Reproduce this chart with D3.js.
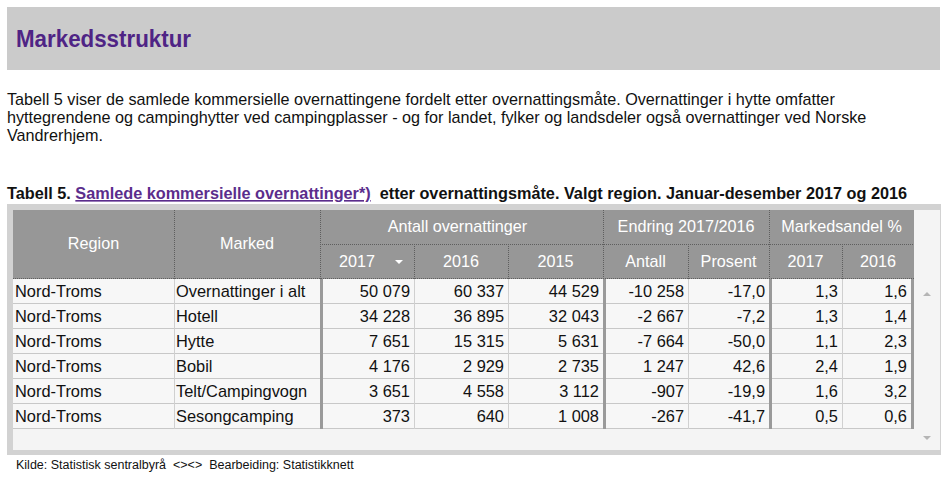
<!DOCTYPE html>
<html><head><meta charset="utf-8">
<script src="https://cdn.jsdelivr.net/npm/d3@7"></script>
<style>
html,body{margin:0;padding:0;background:#fff;}
svg{display:block;font-family:Arial,"Liberation Sans",sans-serif;}
</style></head>
<body>
<script>
const pageTitle = "Markedsstruktur";
const introLines = [
  "Tabell 5 viser de samlede kommersielle overnattingene fordelt etter overnattingsmåte. Overnattinger i hytte omfatter",
  "hyttegrendene og campinghytter ved campingplasser - og for landet, fylker og landsdeler også overnattinger ved Norske",
  "Vandrerhjem."
];
const tablePrefix = "Tabell 5. ";
const tableLink = "Samlede kommersielle overnattinger*)";
const tableSuffix = "  etter overnattingsmåte. Valgt region. Januar-desember 2017 og 2016";
const sourceText = "Kilde: Statistisk sentralbyrå  <><>  Bearbeiding: Statistikknett";

const groupHeaders = ["Antall overnattinger", "Endring 2017/2016", "Markedsandel %"];
const subHeaders = ["2017", "2016", "2015", "Antall", "Prosent", "2017", "2016"];
const regions = ["Nord-Troms","Nord-Troms","Nord-Troms","Nord-Troms","Nord-Troms","Nord-Troms"];
const markets = ["Overnattinger i alt","Hotell","Hytte","Bobil","Telt/Campingvogn","Sesongcamping"];
const nights2017 = [50079, 34228, 7651, 4176, 3651, 373];
const nights2016 = [60337, 36895, 15315, 2929, 4558, 640];
const nights2015 = [44529, 32043, 5631, 2735, 3112, 1008];
const changeCount = [-10258, -2667, -7664, 1247, -907, -267];
const changePct = [-17.0, -7.2, -50.0, 42.6, -19.9, -41.7];
const share2017 = [1.3, 1.3, 1.1, 2.4, 1.6, 0.5];
const share2016 = [1.6, 1.4, 2.3, 1.9, 3.2, 0.6];

const W = 945, H = 490;
const svg = d3.select("body").append("svg").attr("width", W).attr("height", H);

// Title bar
svg.append("rect").attr("x", 7).attr("y", 7).attr("width", 933).attr("height", 63).attr("fill", "#cbcbcb");
svg.append("text").attr("x", 16).attr("y", 47).text(pageTitle)
  .attr("font-weight", "bold").attr("font-size", 24).attr("fill", "#4f2485")
  .attr("textLength", 175).attr("lengthAdjust", "spacingAndGlyphs");

// Intro paragraph
svg.append("g").selectAll("text").data(introLines).join("text")
  .attr("x", 7).attr("y", (d, i) => 105 + i * 18)
  .attr("font-size", 16.2).attr("fill", "#111").text(d => d);

// Table caption
const cap = svg.append("text").attr("x", 7).attr("y", 199).attr("font-size", 16.25)
  .attr("font-weight", "bold").attr("fill", "#111").style("white-space", "pre");
cap.append("tspan").text(tablePrefix);
cap.append("tspan").attr("fill", "#5b2d8c").attr("text-decoration", "underline").text(tableLink);
cap.append("tspan").text(tableSuffix);

// Table frame
svg.append("rect").attr("x", 7).attr("y", 204).attr("width", 934).attr("height", 251).attr("fill", "#d2d2d2");
svg.append("rect").attr("x", 13).attr("y", 210).attr("width", 927).attr("height", 240).attr("fill", "#f4f4f4");

// Column layout
const colWidths = [161, 146, 94, 94, 95, 85, 81, 73, 72];
const colEdges = [13];
colWidths.forEach(w => colEdges.push(colEdges[colEdges.length - 1] + w));
const colX = d3.scaleOrdinal().domain(d3.range(colWidths.length)).range(colEdges.slice(0, -1));
const colW = i => colWidths[i];
const tableLeft = colEdges[0], tableRight = colEdges[colEdges.length - 1];

const headTop = 210, head1H = 34, head2H = 35;
const bodyTop = headTop + head1H + head2H;
const rowY = d3.scaleBand().domain(d3.range(markets.length)).range([bodyTop, bodyTop + 25 * markets.length]);

// Header background
svg.append("rect").attr("x", tableLeft).attr("y", headTop).attr("width", tableRight - tableLeft)
  .attr("height", head1H + head2H).attr("fill", "#979797");

const dot = "#5e5e5e";
const hdr = svg.append("g");
[1, 2, 5, 7].forEach(i => hdr.append("line").attr("x1", colX(i) + 0.5).attr("x2", colX(i) + 0.5)
  .attr("y1", headTop).attr("y2", bodyTop).attr("stroke", dot).attr("stroke-dasharray", "1,1"));
[3, 4, 6, 8].forEach(i => hdr.append("line").attr("x1", colX(i) + 0.5).attr("x2", colX(i) + 0.5)
  .attr("y1", headTop + head1H).attr("y2", bodyTop).attr("stroke", dot).attr("stroke-dasharray", "1,1"));
hdr.append("line").attr("x1", colX(2)).attr("x2", tableRight).attr("y1", headTop + head1H + 0.5)
  .attr("y2", headTop + head1H + 0.5).attr("stroke", dot).attr("stroke-dasharray", "1,1");
hdr.append("line").attr("x1", tableLeft).attr("x2", tableRight).attr("y1", bodyTop - 0.5)
  .attr("y2", bodyTop - 0.5).attr("stroke", dot).attr("stroke-dasharray", "1,1");

const hs = 16.2;
hdr.append("text").attr("x", colX(0) + colW(0) / 2).attr("y", headTop + 39).attr("text-anchor", "middle")
  .attr("font-size", hs).attr("fill", "#fff").text("Region");
hdr.append("text").attr("x", colX(1) + colW(1) / 2).attr("y", headTop + 39).attr("text-anchor", "middle")
  .attr("font-size", hs).attr("fill", "#fff").text("Marked");
const groupSpans = [[2, 5], [5, 7], [7, 9]];
hdr.selectAll("text.g").data(groupHeaders).join("text").attr("class", "g")
  .attr("x", (d, i) => (colEdges[groupSpans[i][0]] + colEdges[groupSpans[i][1]]) / 2 - (i === 0 ? 4 : 0))
  .attr("y", headTop + 22).attr("text-anchor", "middle").attr("font-size", hs).attr("fill", "#fff").text(d => d);
hdr.selectAll("text.s").data(subHeaders).join("text").attr("class", "s")
  .attr("x", (d, i) => colX(i + 2) + colW(i + 2) / 2 - (i === 0 ? 10 : 0))
  .attr("y", headTop + head1H + 23).attr("text-anchor", "middle").attr("font-size", hs).attr("fill", "#fff").text(d => d);
const ax = colX(2) + 79, ay = headTop + head1H + 16;
hdr.append("path").attr("d", `M${ax - 4},${ay} L${ax + 4},${ay} L${ax},${ay + 4} Z`).attr("fill", "#fff");

// Body rows
const fmtInt = v => {
  const s = d3.format(",")(Math.abs(v)).replace(/,/g, " ");
  return (v < 0 ? "-" : "") + s;
};
const fmtDec = v => d3.format(".1f")(v).replace("−", "-").replace(".", ",");
const rows = markets.map((m, i) => [regions[i], m, fmtInt(nights2017[i]), fmtInt(nights2016[i]),
  fmtInt(nights2015[i]), fmtInt(changeCount[i]), fmtDec(changePct[i]), fmtDec(share2017[i]), fmtDec(share2016[i])]);

const body = svg.append("g");
body.selectAll("rect.row").data(rows).join("rect").attr("class", "row")
  .attr("x", tableLeft).attr("y", (d, i) => rowY(i)).attr("width", tableRight - tableLeft)
  .attr("height", rowY.bandwidth()).attr("fill", "#f7f7f7");
body.selectAll("line.h").data(rows).join("line").attr("class", "h")
  .attr("x1", tableLeft).attr("x2", tableRight)
  .attr("y1", (d, i) => rowY(i) + rowY.bandwidth() - 0.5).attr("y2", (d, i) => rowY(i) + rowY.bandwidth() - 0.5)
  .attr("stroke", "#c8c8c8");
[1, 3, 4, 6, 8].forEach(i => body.append("line").attr("x1", colX(i) + 0.5).attr("x2", colX(i) + 0.5)
  .attr("y1", bodyTop).attr("y2", rowY(markets.length - 1) + rowY.bandwidth()).attr("stroke", "#d0d0d0"));
[2, 5, 7].forEach(i => body.append("rect").attr("x", colX(i)).attr("y", bodyTop).attr("width", 3)
  .attr("height", rowY.bandwidth() * markets.length).attr("fill", "#9a9a9a"));
body.append("rect").attr("x", tableRight - 3).attr("y", bodyTop).attr("width", 3)
  .attr("height", rowY.bandwidth() * markets.length).attr("fill", "#9a9a9a");

rows.forEach((r, i) => {
  body.selectAll(null).data(r).join("text")
    .attr("x", (d, j) => j < 2 ? colX(j) + 2 : colX(j) + colW(j) - (j === 8 ? 7 : 4))
    .attr("y", rowY(i) + 18)
    .attr("text-anchor", (d, j) => j < 2 ? "start" : "end")
    .attr("font-size", 16.4).attr("fill", "#111").text(d => d);
});

svg.append("path").attr("d", "M923,296 L931,296 L927,292 Z").attr("fill", "#b5b5b5");
svg.append("path").attr("d", "M923,436 L931,436 L927,440 Z").attr("fill", "#b5b5b5");

svg.append("text").attr("x", 16).attr("y", 469).attr("font-size", 12.5).attr("fill", "#111")
  .style("white-space", "pre").text(sourceText);
</script>
</body></html>
